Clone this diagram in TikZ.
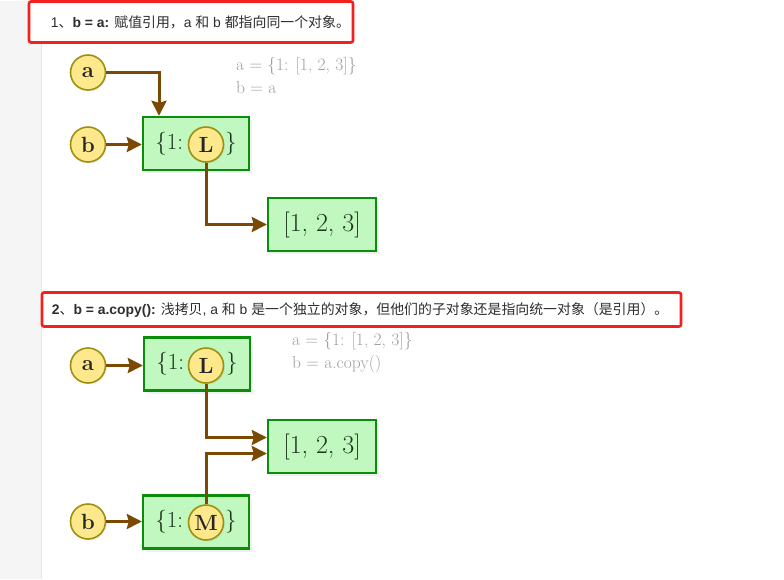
\documentclass[tikz,border=0pt]{standalone}
\usepackage{fontspec}
\newfontfamily\cjk{Noto Sans CJK SC}
\newfontfamily\arial{Liberation Sans}
\usetikzlibrary{arrows.meta,shadows}
\definecolor{diagbrown}{HTML}{7A4A04}
\definecolor{diagvarfill}{HTML}{FDE98C}
\definecolor{diagvaredge}{HTML}{9E9010}
\definecolor{diagboxfill}{HTML}{C0F8C0}
\definecolor{diagboxedge}{HTML}{0A8E0A}
\definecolor{diagink}{HTML}{1E361E}
\definecolor{diagcode}{HTML}{9E9E9E}
\definecolor{diagred}{HTML}{F5201E}
\definecolor{diagside}{HTML}{F5F5F5}
\definecolor{diagsideline}{HTML}{E6E6E6}
\definecolor{diaghdr}{HTML}{2E2E2E}

\begin{document}
\begin{tikzpicture}[x=1pt,y=-1pt,
    var/.style={circle,draw=diagvaredge,fill=diagvarfill,line width=1.6pt,
      minimum size=35pt,inner sep=0pt,text=black!85,
      font=\fontsize{22}{22}\selectfont\bfseries,
      drop shadow={shadow xshift=1.5pt,shadow yshift=-1.5pt,opacity=.10}},
    box/.style={rectangle,draw=diagboxedge,fill=diagboxfill,line width=2.4pt,
      minimum width=106pt,minimum height=53pt,inner sep=0pt,text=diagink,
      font=\fontsize{23}{23}\selectfont,
      drop shadow={shadow xshift=3pt,shadow yshift=-3pt,opacity=.12}},
    list/.style={box,minimum width=108pt,font=\fontsize{26}{26}\selectfont},
    ref/.style={draw=diagbrown,line width=3pt,
      -{Stealth[length=15pt,width=15pt,inset=2pt]}},
    code/.style={anchor=north west,align=left,inner sep=0pt,text=diagcode,
      font=\fontsize{17.5}{23}\selectfont},
    redbox/.style={draw=diagred,line width=2.6pt,rounded corners=2pt,fill=white},
    hdr/.style={anchor=west,inner sep=0pt,text=diaghdr,
      font=\fontsize{13.9}{15}\selectfont}]

  % page background
  \fill[diagside] (0,0) rectangle (41,578);
  \draw[diagsideline,line width=1pt] (41,0) -- (41,578);
  \useasboundingbox (0,0) rectangle (784,578);

  % 1. b = a
  \node[redbox,minimum width=324pt,minimum height=41pt] (h1) at (191,21.5) {};
  \node[hdr] (t1) at ([xshift=23pt]h1.west)
    {{\arial 1}{\cjk 、}{\arial\bfseries b = a: }{\cjk 赋值引用，}{\arial a }{\cjk 和}{\arial{} b }{\cjk 都指向同一个对象。}};

  \node[code] (c1) at (236,57) {a = \{1: [1, 2, 3]\}\\ b = a};

  \node[var] (a1) at (88,72) {a};
  \node[var] (b1) at (88,144) {b};
  \node[box] (d1) at (196,143) {\{1:\hspace{42pt}\}};
  \node[var] (L1) at (206,144) {L};
  \node[list] (l1) at (322,224) {[1, 2, 3]};

  \draw[ref] (a1.east) -| ([xshift=-37pt]d1.north);
  \draw[ref] (b1.east) -- (b1.east -| d1.west);
  \draw[ref] (L1.south) |- (l1.west);

  % 2. b = a.copy()
  \node[redbox,minimum width=639pt,minimum height=34pt] (h2) at (361.5,309) {};
  \node[hdr] (t2) at ([xshift=11pt]h2.west)
    {{\arial\bfseries 2}{\cjk 、}{\arial\bfseries b = a.copy(): }{\cjk 浅拷贝}{\arial , a }{\cjk 和}{\arial{} b }{\cjk 是一个独立的对象，但他们的子对象还是指向统一对象（是引用）。}};

  \node[code] (c2) at (292,332) {a = \{1: [1, 2, 3]\}\\ b = a.copy()};

  \node[var] (a2) at (88,365) {a};
  \node[box] (d2) at (197,363.5) {\{1:\hspace{42pt}\}};
  \node[var] (L2) at (206,365) {L};
  \node[list] (l2) at (322,446) {[1, 2, 3]};
  \node[var] (b2) at (88,521) {b};
  \node[box] (d3) at (196,521.5) {\{1:\hspace{42pt}\}};
  \node[var] (M2) at (206,522) {M};

  \draw[ref] (a2.east) -- (a2.east -| d2.west);
  \draw[ref] (L2.south) |- ([yshift=9pt]l2.west);
  \draw[ref] (M2.north) |- ([yshift=-7pt]l2.west);
  \draw[ref] (b2.east) -- (b2.east -| d3.west);
\end{tikzpicture}
\end{document}
